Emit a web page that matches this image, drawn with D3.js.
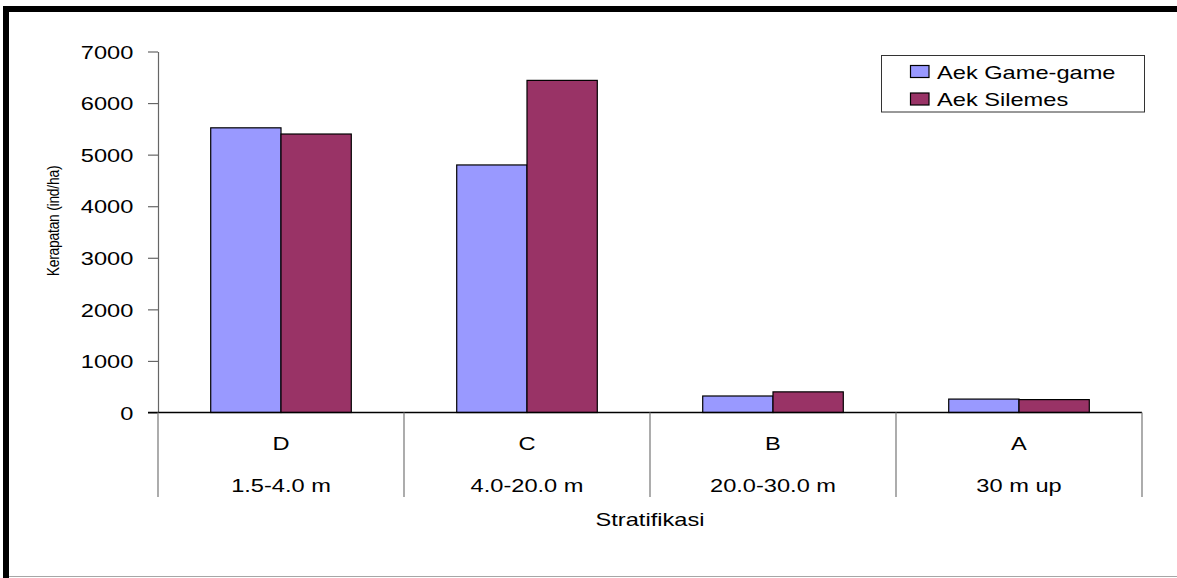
<!DOCTYPE html>
<html>
<head>
<meta charset="utf-8">
<script src="https://cdn.jsdelivr.net/npm/d3@7"></script>
<style>
  html, body { margin: 0; padding: 0; background: #fff; }
  svg { display: block; }
  text { font-family: "Liberation Sans", Arial, sans-serif; fill: #000; }
</style>
</head>
<body>
<svg id="chart" width="1177" height="578"></svg>
<script>
// Stratum codes and their height ranges
const categories = ["D", "C", "B", "A"];
const heightRanges = ["1.5-4.0 m", "4.0-20.0 m", "20.0-30.0 m", "30 m up"];
// Density (ind/ha) per stratum for each site
const seriesNames = ["Aek Game-game", "Aek Silemes"];
const aekGameGame = [5520, 4800, 320, 260];
const aekSilemes = [5400, 6440, 400, 250];
const yTicks = [0, 1000, 2000, 3000, 4000, 5000, 6000, 7000];
const colors = ["#9999FF", "#993366"];

const SX = 1.27;   // horizontal stretch of the lettering
const FS = 18.6;   // font size in px

const svg = d3.select("#chart");

// Outer frame: heavy top and left rules, light bottom rule
svg.append("rect").attr("x", 3).attr("y", 6).attr("width", 1174).attr("height", 6).attr("fill", "#000");
svg.append("rect").attr("x", 3).attr("y", 6).attr("width", 6).attr("height", 572).attr("fill", "#000");
svg.append("line").attr("x1", 9).attr("x2", 1177).attr("y1", 576.5).attr("y2", 576.5)
  .attr("stroke", "#a6a6a6").attr("stroke-width", 1);

const plotLeft = 158, plotRight = 1142, plotTop = 51.5, plotBottom = 412.5;

const y = d3.scaleLinear().domain([0, 7000]).range([plotBottom, plotTop]);
const x = d3.scaleBand().domain(categories).range([plotLeft, plotRight]).paddingInner(0).paddingOuter(0);
const xs = d3.scaleBand().domain(seriesNames).range([0, x.bandwidth()]).paddingInner(0).paddingOuter(0.75);

// Y axis
const yAxis = svg.append("g")
  .attr("transform", `translate(${plotLeft},0)`)
  .call(d3.axisLeft(y).tickValues(yTicks).tickFormat(d3.format("d")).tickSize(10).tickSizeOuter(0));
yAxis.select(".domain").attr("stroke", "#666").attr("stroke-width", 1.2);
yAxis.selectAll(".tick line").attr("stroke", "#666").attr("stroke-width", 1.2);
yAxis.selectAll(".tick text")
  .attr("x", -24.7 / SX)
  .attr("dy", "0.36em")
  .attr("transform", `scale(${SX},1)`)
  .style("font-size", FS + "px")
  .style("font-family", "'Liberation Sans', Arial, sans-serif")
  .attr("fill", "#000");

// Bars
const rows = categories.map((c, i) => ({ cat: c, values: [aekGameGame[i], aekSilemes[i]] }));
const groups = svg.append("g").selectAll("g").data(rows).join("g")
  .attr("transform", d => `translate(${x(d.cat)},0)`);
groups.selectAll("rect")
  .data(d => d.values.map((v, k) => ({ name: seriesNames[k], value: v, k })))
  .join("rect")
  .attr("x", d => xs(d.name))
  .attr("width", xs.bandwidth())
  .attr("y", d => y(d.value))
  .attr("height", d => y(0) - y(d.value))
  .attr("fill", d => colors[d.k])
  .attr("stroke", "#000")
  .attr("stroke-width", 1.2);

// X axis baseline and category labels
const xAxis = svg.append("g")
  .attr("transform", `translate(0,${plotBottom})`)
  .call(d3.axisBottom(x).tickSize(0).tickSizeOuter(0));
xAxis.select(".domain").remove();
xAxis.selectAll(".tick text")
  .attr("y", 0).attr("dy", 0)
  .attr("transform", `translate(0,37.5) scale(${SX},1)`)
  .style("font-size", FS + "px")
  .style("font-family", "'Liberation Sans', Arial, sans-serif")
  .attr("fill", "#000");

svg.append("line")
  .attr("x1", plotLeft - 10).attr("x2", plotRight)
  .attr("y1", plotBottom).attr("y2", plotBottom)
  .attr("stroke", "#000").attr("stroke-width", 1.3);

// Category dividers
const edges = categories.map(c => x(c)).concat([plotRight]);
svg.append("g").selectAll("line").data(edges).join("line")
  .attr("x1", d => d).attr("x2", d => d)
  .attr("y1", plotBottom).attr("y2", 497)
  .attr("stroke", "#808080").attr("stroke-width", 1.3);

// Height-range labels
svg.append("g").selectAll("g").data(categories).join("g")
  .attr("transform", d => `translate(${x(d) + x.bandwidth() / 2},491.5)`)
  .append("text")
  .attr("text-anchor", "middle")
  .attr("transform", `scale(${SX},1)`)
  .style("font-size", FS + "px")
  .text((d, i) => heightRanges[i]);

// Axis titles
svg.append("g").attr("transform", `translate(${(plotLeft + plotRight) / 2},526)`)
  .append("text").attr("text-anchor", "middle")
  .attr("transform", `scale(${SX},1)`)
  .style("font-size", FS + "px")
  .text("Stratifikasi");

svg.append("g").attr("transform", "translate(59,221) rotate(-90)")
  .append("text")
  .attr("text-anchor", "middle")
  .attr("transform", "scale(0.9,1.05)")
  .style("font-size", "15.5px")
  .style("letter-spacing", "-0.3px")
  .text("Kerapatan (ind/ha)");

// Legend
const legend = svg.append("g");
legend.append("rect")
  .attr("x", 881.5).attr("y", 55.5).attr("width", 263).attr("height", 56.5)
  .attr("fill", "#fff").attr("stroke", "#333").attr("stroke-width", 1);
const items = legend.selectAll("g.item").data(seriesNames).join("g")
  .attr("class", "item")
  .attr("transform", (d, i) => `translate(0,${i * 27.5})`);
items.append("rect")
  .attr("x", 910.5).attr("y", 65.5).attr("width", 18.5).attr("height", 12)
  .attr("fill", (d, i) => colors[i]).attr("stroke", "#000").attr("stroke-width", 1.2);
items.append("g").attr("transform", "translate(937,78.7)")
  .append("text")
  .attr("transform", `scale(${SX},1)`)
  .style("font-size", FS + "px")
  .text(d => d);
</script>
</body>
</html>
